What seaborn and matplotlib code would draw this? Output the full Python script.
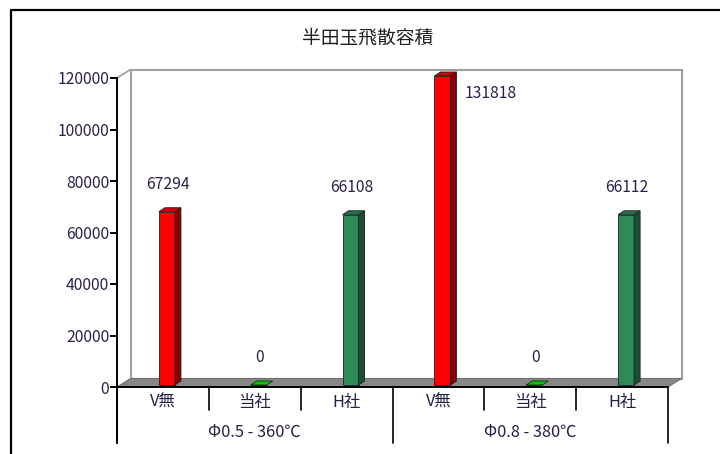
import numpy as np
import pandas as pd
import seaborn as sns
import matplotlib
matplotlib.use("Agg")
import matplotlib.pyplot as plt
from matplotlib.patches import Polygon
from matplotlib.lines import Line2D
import matplotlib.transforms as mtransforms

# ---- data ----
categories = ['V無', '当社', 'H社', 'V無', '当社', 'H社']
groups = ['Φ0.5 - 360℃', 'Φ0.8 - 380℃']
values = [67294, 0, 66108, 131818, 0, 66112]
y_ticks = [0, 20000, 40000, 60000, 80000, 100000, 120000]
title = '半田玉飛散容積'

front_colors = ['#ff0000', '#00b000', '#2e8b57', '#ff0000', '#00b000', '#2e8b57']
side_colors = ['#8b0000', '#006400', '#1b4f33', '#8b0000', '#006400', '#1b4f33']
top_colors = ['#d00000', '#00c800', '#24704a', '#d00000', '#00c800', '#24704a']

sns.set_theme(style='white')
plt.rcParams['font.family'] = ['Noto Sans CJK JP', 'DejaVu Sans']
TXT = '#23234a'
FS = 11.3

W, H, DPI = 720, 454, 100
fig = plt.figure(figsize=(W / DPI, H / DPI), dpi=DPI)
fig.patch.set_facecolor('white')

# axes in pixel geometry (image coordinates: y from top)
L, R, T, B = 117, 668, 78, 387
ax = fig.add_axes([L / W, (H - B) / H, (R - L) / W, (B - T) / H])
ax.set_facecolor('none')
ax.set_zorder(1)

df = pd.DataFrame({'slot': [str(i) for i in range(len(values))], 'value': values})
sns.barplot(data=df, x='slot', y='value', hue='slot', palette=front_colors,
            width=0.175, legend=False, ax=ax, edgecolor='#202020', linewidth=0.6,
            saturation=1)

ymax = y_ticks[-1]
ax.set_xlim(-0.5, len(values) - 0.5)
ax.set_ylim(0, ymax)
ax.set_yticks(y_ticks)
ax.set_yticklabels([str(t) for t in y_ticks], color=TXT, fontsize=FS)
ax.set_xticks([])
ax.set_xlabel('')
ax.set_ylabel('')
for s in ['top', 'right', 'bottom']:
    ax.spines[s].set_visible(False)
ax.spines['left'].set_color('black')
ax.spines['left'].set_linewidth(1.4)
ax.tick_params(axis='y', direction='out', length=5, width=1.4, color='black', pad=0.5, left=True)

ident = mtransforms.IdentityTransform()

# depth of the chart (wall/floor) and of bars, in pixels
DX, DY = 13.5, 8.5
bdx, bdy = 6, 4
shift_x, shift_y = 4, 2

fig.canvas.draw()
tD = ax.transData

# back wall
x0d, y0d = tD.transform((-0.5, 0))
x1d, y1d = tD.transform((len(values) - 0.5, ymax))
wall = Polygon([(x0d + DX, y0d + DY), (x1d + DX, y0d + DY), (x1d + DX, y1d + DY), (x0d + DX, y1d + DY)],
               closed=True, facecolor='white', edgecolor='#a0a0a0', linewidth=1.5,
               transform=ident, zorder=0.2)
fig.add_artist(wall)
# floor
floor = Polygon([(x0d, y0d), (x1d, y0d), (x1d + DX, y0d + DY), (x0d + DX, y0d + DY)],
                closed=True, facecolor='#878787', edgecolor='#707070', linewidth=0.8,
                transform=ident, zorder=0.3)
fig.add_artist(floor)
# top-left diagonal
fig.add_artist(Line2D([x0d, x0d + DX], [y1d, y1d + DY], color='#a0a0a0', lw=1.2, transform=ident, zorder=0.3))
# x axis line
fig.add_artist(Line2D([x0d, x1d], [y0d, y0d], color='black', lw=1.4, transform=ident, zorder=3))

# bars: shift into depth and add side/top faces (bars taller than the axis are capped at its top)
for i, p in enumerate(ax.patches):
    if p.get_height() > ymax:
        p.set_height(ymax)
    p.set_clip_on(False)
    p.set_transform(tD + mtransforms.ScaledTranslation(shift_x / DPI, shift_y / DPI, fig.dpi_scale_trans))
    p.set_zorder(2)
    bx = p.get_x(); bw = p.get_width(); h = p.get_height()
    (fx0, fy0) = tD.transform((bx, 0)); (fx1, fy1) = tD.transform((bx + bw, h))
    fx0 += shift_x; fx1 += shift_x; fy0 += shift_y; fy1 += shift_y
    side = Polygon([(fx1, fy0), (fx1 + bdx, fy0 + bdy), (fx1 + bdx, fy1 + bdy), (fx1, fy1)],
                   closed=True, facecolor=side_colors[i], edgecolor='#202020', linewidth=0.6,
                   transform=ident, zorder=2)
    top = Polygon([(fx0, fy1), (fx1, fy1), (fx1 + bdx, fy1 + bdy), (fx0 + bdx, fy1 + bdy)],
                  closed=True, facecolor=top_colors[i], edgecolor='#202020', linewidth=0.6,
                  transform=ident, zorder=2.1)
    if values[i] > 0:
        fig.add_artist(side)
    fig.add_artist(top)
    cx = (fx0 + fx1) / 2
    if values[i] > ymax:
        fig.text(cx + 48, fy1 - 18, f'{values[i]}', color=TXT, fontsize=FS,
                 ha='center', va='center', transform=ident)
    else:
        fig.text(cx + 1, fy1 + 27, f'{values[i]}', color=TXT, fontsize=FS,
                 ha='center', va='center', transform=ident)

# category labels and separators
n = len(values)
for i in range(n):
    cx, _ = tD.transform((i, 0))
    fig.text(cx, H - 402, categories[i], color=TXT, fontsize=FS + 0.5, ha='center', va='center', transform=ident)
per = n // len(groups)
for b in range(n + 1):
    bxp, _ = tD.transform((b - 0.5, 0))
    bottom = 443 if b % per == 0 else 410
    fig.add_artist(Line2D([bxp, bxp], [H - 387, H - bottom], color='black', lw=1.2, transform=ident))
for g, name in enumerate(groups):
    gx, _ = tD.transform((g * per + (per - 1) / 2, 0))
    fig.text(gx, H - 432, name, color=TXT, fontsize=FS + 0.5, ha='center', va='center', transform=ident)
# y axis extension below
fig.add_artist(Line2D([x0d, x0d], [H - 387, H - 443], color='black', lw=1.4, transform=ident))

# title
fig.text(368, H - 38, title, color='#202020', fontsize=13.5, ha='center', va='center', transform=ident)

# outer frame (left and top edges)
fig.add_artist(Line2D([11, 11], [0, H - 10], color='black', lw=1.6, transform=ident))
fig.add_artist(Line2D([11, W], [H - 10, H - 10], color='black', lw=1.6, transform=ident))

fig.savefig('out.png', dpi=DPI, facecolor='white')
